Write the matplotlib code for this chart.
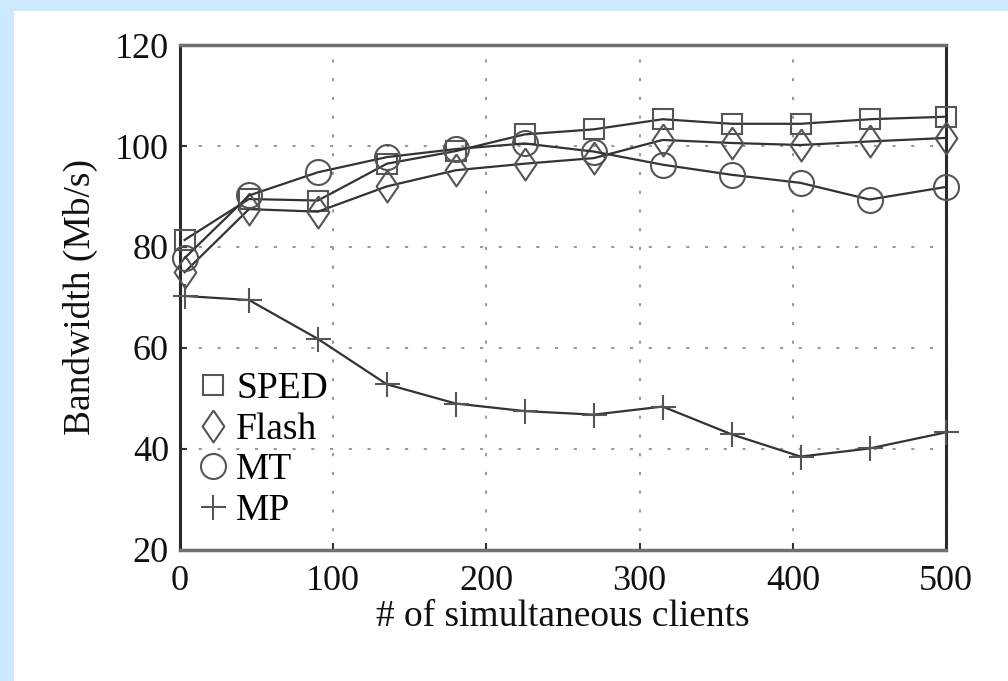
import matplotlib
matplotlib.use("Agg")
import matplotlib.pyplot as plt
from matplotlib.lines import Line2D
from matplotlib.patches import Rectangle

clients = [3, 45, 90, 135, 180, 225, 270, 315, 360, 405, 450, 500]
sped = [81.4, 89.5, 89.2, 96.5, 99.0, 102.3, 103.3, 105.3, 104.4, 104.4, 105.3, 105.8]
flash = [75.0, 87.5, 87.0, 92.0, 95.2, 96.5, 97.6, 101.2, 100.6, 100.2, 100.9, 101.6]
mt = [77.8, 90.2, 94.8, 97.8, 99.4, 100.5, 98.9, 96.3, 94.3, 92.7, 89.4, 91.9]
mp = [70.3, 69.5, 61.8, 52.8, 49.0, 47.5, 46.8, 48.4, 42.9, 38.5, 40.1, 43.3]

names = ["SPED", "Flash", "MT", "MP"]

plt.rcParams['font.family'] = ['Liberation Serif', 'DejaVu Serif']

fig = plt.figure(figsize=(10.08, 6.81), dpi=100)
fig.patch.set_facecolor('#cce9fd')
# white page inside the blue frame
fig.add_artist(Rectangle((14 / 1008, 0), 1, (681 - 11) / 681, transform=fig.transFigure,
                         facecolor='white', edgecolor='none', zorder=-10))

ax = fig.add_axes([0.1786, 0.1924, 0.760, 0.7415])
ax.set_facecolor('white')

diamond = [(0, 1), (0.68, 0), (0, -1), (-0.68, 0), (0, 1)]
line_c = '#333333'
edge_c = '#555555'
styles = [
    dict(marker='s', markersize=14.5),
    dict(marker=diamond, markersize=23),
    dict(marker='o', markersize=18),
    dict(marker='+', markersize=18),
]
series = [sped, flash, mt, mp]

for vals, st in zip(series, styles):
    ax.plot(clients, vals, color=line_c, linewidth=1.6, mfc='none', mec=edge_c,
            mew=1.5, clip_on=False, zorder=3, **st)

ax.set_xlim(0, 500)
ax.set_ylim(20, 120)
ax.set_xticks(range(0, 501, 100))
ax.set_yticks(range(20, 121, 20))
ax.grid(True, color='#9a9a9a', linestyle=(0, (1.5, 7.5)), linewidth=1.5)
ax.tick_params(direction='in', length=5, width=1.5, colors='#333333',
               labelsize=26, labelcolor='#111111')
ax.tick_params(axis='x', pad=11)
ax.tick_params(axis='y', pad=8)
for s in ['top', 'bottom']:
    ax.spines[s].set_color('#707070')
    ax.spines[s].set_linewidth(2.5)
for s in ['left', 'right']:
    ax.spines[s].set_color('#2a2a2a')
    ax.spines[s].set_linewidth(2.2)

ax.set_xlabel("# of simultaneous clients", fontsize=27, color='#111111', labelpad=1)
ax.set_ylabel("Bandwidth (Mb/s)", fontsize=27, color='#111111', labelpad=12)

handles = [Line2D([], [], linestyle='none', mfc='none', mec=edge_c, mew=1.5, **st)
           for st in styles]
ax.legend(handles, names, loc='upper left', bbox_to_anchor=(0.0, 0.39), frameon=False,
          fontsize=27, handlelength=0.75, handletextpad=0.25, labelspacing=0.16,
          borderpad=0.3, borderaxespad=0.2)

fig.savefig("out.png", dpi=100, facecolor=fig.get_facecolor())
